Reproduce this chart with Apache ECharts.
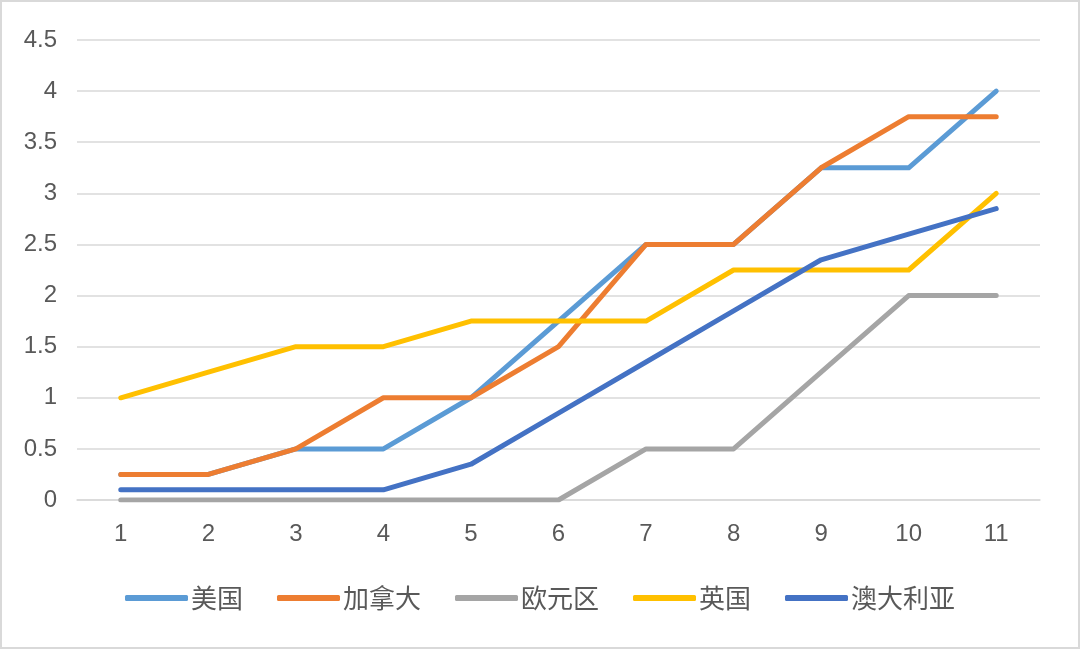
<!DOCTYPE html>
<html>
<head>
<meta charset="utf-8">
<script src="https://cdn.jsdelivr.net/npm/echarts@6/dist/echarts.min.js"></script>
<style>
  html, body { margin: 0; padding: 0; background: #fff; }
  #main { width: 1076px; height: 645px; border: 2px solid #d9d9d9; }
</style>
</head>
<body>
<div id="main"></div>
<script>
    // categories and series
    var categories = ['1', '2', '3', '4', '5', '6', '7', '8', '9', '10', '11'];
    var usa       = [0.25, 0.25, 0.5, 0.5, 1, 1.75, 2.5, 2.5, 3.25, 3.25, 4];
    var canada    = [0.25, 0.25, 0.5, 1, 1, 1.5, 2.5, 2.5, 3.25, 3.75, 3.75];
    var eurozone  = [0, 0, 0, 0, 0, 0, 0.5, 0.5, 1.25, 2, 2];
    var uk        = [1, 1.25, 1.5, 1.5, 1.75, 1.75, 1.75, 2.25, 2.25, 2.25, 3];
    var australia = [0.1, 0.1, 0.1, 0.1, 0.35, 0.85, 1.35, 1.85, 2.35, 2.6, 2.85];

    var names = ['美国', '加拿大', '欧元区', '英国', '澳大利亚'];
    var color = ['#5B9BD5', '#ED7D31', '#A5A5A5', '#FFC000', '#4472C4'];
    var values = [usa, canada, eurozone, uk, australia];

    var chart = echarts.init(document.getElementById('main'));

    var series = names.map(function (name, i) {
        return {
            name: name,
            type: 'line',
            data: values[i],
            symbol: 'none',
            lineStyle: { width: 5, cap: 'round', join: 'round', color: color[i] },
            itemStyle: { color: color[i] },
            animation: false
        };
    });

    var option = {
        textStyle: { fontFamily: 'Noto Sans CJK SC' },
        color: color,
        grid: { left: 75, right: 38, top: 38, bottom: 147, containLabel: false },
        legend: {
            top: 578,
            left: 'center',
            itemWidth: 63,
            itemHeight: 6,
            itemGap: 34,
            icon: 'roundRect',
            textStyle: { color: '#595959', fontSize: 26, padding: [0, 0, 0, -2] },
            data: names
        },
        xAxis: {
            type: 'category',
            data: categories,
            boundaryGap: true,
            axisLine: { lineStyle: { color: '#d9d9d9', width: 1.5 } },
            axisTick: { show: false },
            axisLabel: { color: '#595959', fontSize: 24, margin: 22, fontFamily: 'Liberation Sans' }
        },
        yAxis: {
            type: 'value',
            min: 0,
            max: 4.5,
            interval: 0.5,
            axisLine: { show: false },
            axisTick: { show: false },
            splitLine: { lineStyle: { color: '#d9d9d9', width: 1.5 } },
            axisLabel: { color: '#595959', fontSize: 24, margin: 20, fontFamily: 'Liberation Sans' }
        },
        series: series
    };

    chart.setOption(option);
</script>
</body>
</html>
